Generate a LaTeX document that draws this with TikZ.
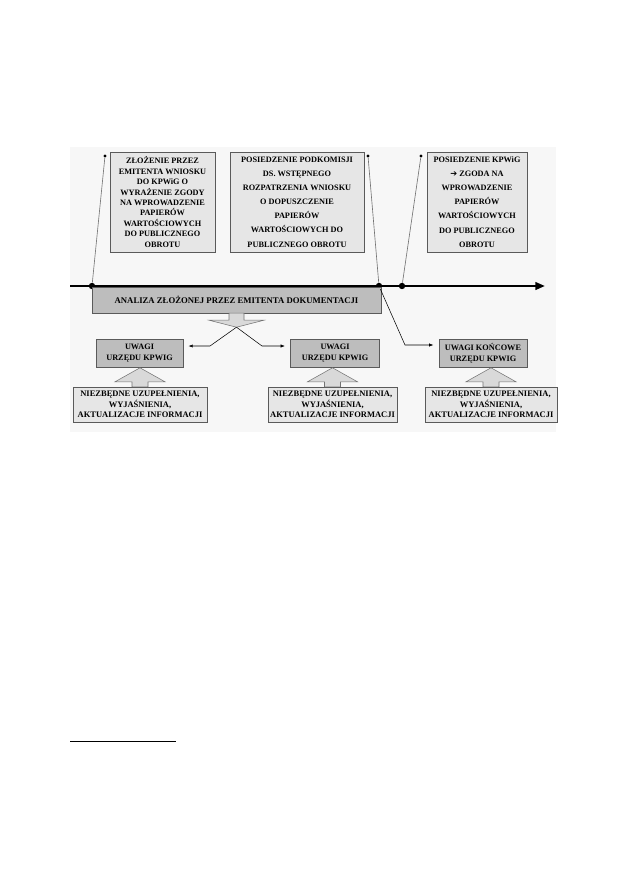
\documentclass[tikz,border=0pt]{standalone}
\usepackage{fontspec}
\setmainfont{Liberation Serif}
\newfontfamily\symfont{DejaVu Sans}
\usepackage{tikz}
\usetikzlibrary{positioning,arrows.meta,calc}
\definecolor{panelbg}{HTML}{F7F7F7}
\definecolor{lightbox}{HTML}{E6E6E6}
\definecolor{darkbox}{HTML}{BDBDBD}
\definecolor{edgegray}{HTML}{5A5A5A}
\definecolor{arrfill}{HTML}{D9D9D9}
\tikzset{
  evt/.style    ={draw=edgegray, rectangle, align=center, fill=lightbox, inner sep=2pt, minimum height=94pt, font=\bfseries\fontsize{7.8}{13.3}\selectfont},
  ana/.style    ={draw=edgegray, rectangle, align=center, fill=darkbox, minimum width=272pt, minimum height=24.5pt, font=\bfseries\fontsize{8.2}{9}\selectfont},
  uwg/.style    ={draw=edgegray, rectangle, align=center, fill=darkbox, minimum height=26.4pt, inner sep=2pt, font=\bfseries\fontsize{7.8}{10.4}\selectfont},
  uzp/.style    ={draw=edgegray, rectangle, align=center, fill=lightbox, minimum height=33pt, inner sep=1pt, font=\bfseries\fontsize{8}{9.7}\selectfont},
  blockarr/.style ={draw=black!55, fill=arrfill, line width=0.5pt},
  timeline/.style ={-{Triangle[length=9pt, width=7pt]}, line width=2.2pt},
  arr/.style    ={-{Latex[length=4pt, width=3pt]}, line width=0.5pt, shorten >=5pt},
  pinln/.style  ={draw=black!55, line width=0.6pt},
  pdot/.style   ={circle, fill=black, inner sep=0pt, minimum size=3pt},
  pdotbig/.style={circle, fill=black, inner sep=0pt, minimum size=6pt},
}
\begin{document}
\begin{tikzpicture}[x=0.943pt, y=-0.943pt]
  \useasboundingbox (0,0) rectangle (630,893);
  \fill[panelbg] (70,147) rectangle (556,432);

  % events above the time line
  \node[evt, minimum width=99pt, font=\bfseries\fontsize{7.8}{9.8}\selectfont] (e1) at (162.5,202)
    {ZŁOŻENIE PRZEZ\\EMITENTA WNIOSKU\\DO KPWiG O\\WYRAŻENIE ZGODY\\NA WPROWADZENIE\\PAPIERÓW\\WARTOŚCIOWYCH\\DO PUBLICZNEGO\\OBROTU};
  \node[evt, minimum width=126pt] (e2) at (297,202)
    {POSIEDZENIE PODKOMISJI\\DS. WSTĘPNEGO\\ROZPATRZENIA WNIOSKU\\O DOPUSZCZENIE\\PAPIERÓW\\WARTOŚCIOWYCH DO\\PUBLICZNEGO OBROTU};
  \node[evt, minimum width=94pt] (e3) at (477,202)
    {POSIEDZENIE KPWiG\\{\symfont ➔} ZGODA NA\\WPROWADZENIE\\PAPIERÓW\\WARTOŚCIOWYCH\\DO PUBLICZNEGO\\OBROTU};

  % time line
  \coordinate (tl0) at (70,286);
  \coordinate (tl1) at (545,286);
  \draw[timeline] (tl0) -- (tl1);

  \node[pdot] (p1t) at (105,156) {};
  \node[pdot] (p2t) at (368,156) {};
  \node[pdot] (p3t) at (421,156) {};
  \node[pdotbig] (p1b) at (92,286) {};
  \node[pdotbig] (p2b) at (379,286) {};
  \node[pdotbig] (p3b) at (402,286) {};
  \draw[pinln] (p1t) -- (p1b);
  \draw[pinln] (p2t) -- (p2b);
  \draw[pinln] (p3t) -- (p3b);

  % analysis bar
  \node[ana] (an) at (236.5,300) {ANALIZA ZŁOŻONEJ PRZEZ EMITENTA DOKUMENTACJI};
  \filldraw[blockarr] ($(an.south)+(-7.5,0)$) -- ++(0,7) -- ++(-20,0) -- ($(an.south)+(0,14)$)
    -- ($(an.south)+(27.5,7)$) -- ++(-20,0) -- ($(an.south)+(7.5,0)$) -- cycle;
  \coordinate (tipA) at ($(an.south)+(0,14)$);

  % remarks
  \node[uwg, minimum width=82pt] (u1) at (139.5,353) {UWAGI\\URZĘDU KPWIG};
  \node[uwg, minimum width=84pt] (u2) at (335,353) {UWAGI\\URZĘDU KPWIG};
  \node[uwg, minimum width=83pt] (u3) at (483,353.5) {UWAGI KOŃCOWE\\URZĘDU KPWIG};

  \coordinate (k1) at (210,346);
  \coordinate (k2) at (262,346);
  \coordinate (k3) at (405,345);
  \draw[arr] (tipA) -- (k1) -- (k1 -| u1.east);
  \draw[arr] (tipA) -- (k2) -- (k2 -| u2.west);
  \draw[arr] (p2b) -- (k3) -- (k3 -| u3.west);

  % supplements
  \node[uzp, minimum width=126pt] (b1) at (140,404.5) {NIEZBĘDNE UZUPEŁNIENIA,\\WYJAŚNIENIA,\\AKTUALIZACJE INFORMACJI};
  \node[uzp, minimum width=121.5pt] (b2) at (332.5,404.5) {NIEZBĘDNE UZUPEŁNIENIA,\\WYJAŚNIENIA,\\AKTUALIZACJE INFORMACJI};
  \node[uzp, minimum width=124.5pt] (b3) at (491,404.5) {NIEZBĘDNE UZUPEŁNIENIA,\\WYJAŚNIENIA,\\AKTUALIZACJE INFORMACJI};

  \foreach \b in {b1,b2,b3}
    \filldraw[blockarr] ($(\b.north)+(-8,0)$) -- ++(0,-5) -- ++(-17,0) -- ($(\b.north)+(0,-19)$)
      -- ($(\b.north)+(25,-5)$) -- ++(-17,0) -- ($(\b.north)+(8,0)$) -- cycle;

  % footnote rule
  \coordinate (fn0) at (70,741);
  \coordinate (fn1) at (176,741);
  \draw[line width=0.6pt] (fn0) -- (fn1);
\end{tikzpicture}
\end{document}
